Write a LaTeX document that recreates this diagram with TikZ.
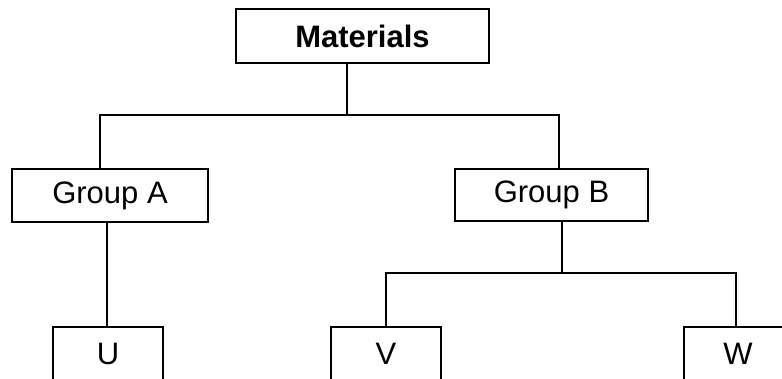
\documentclass[tikz,border=0pt]{standalone}
\usepackage{fontspec}
\setmainfont{Liberation Sans}
\begin{document}
\begin{tikzpicture}[x=1pt,y=-1pt,
  box/.style={draw=black,line width=1.6pt,fill=white,inner sep=0pt,
    font=\fontsize{31}{36}\selectfont},
  conn/.style={draw=black,line width=1.6pt,line join=miter}]
\clip (0,0) rectangle (782,379);
\useasboundingbox (0,0) rectangle (782,379);
\node[box,minimum width=253pt,minimum height=54pt,font=\fontsize{31}{36}\selectfont\bfseries] (m) at (362.5,36) {Materials};
\node[box,minimum width=196pt,minimum height=53pt] (ga) at (110,195.5) {Group A};
\node[box,minimum width=193pt,minimum height=52pt] (gb) at (551.5,195) {Group B};
\node[box,minimum width=110pt,minimum height=54pt] (u) at (108,354) {U};
\node[box,minimum width=110pt,minimum height=54pt] (v) at (386,354) {V};
\node[box,minimum width=108pt,minimum height=54pt] (w) at (738,354) {W};
\coordinate (mb) at (347,115);
\coordinate (aTop) at (100,115);
\coordinate (bTop) at (559,115);
\coordinate (gaB) at (107,250);
\coordinate (gbB) at (562,273);
\coordinate (vB) at (386,273);
\coordinate (wB) at (736,273);
\draw[conn] (m.south -| mb) -- (mb);
\draw[conn] (ga.north -| aTop) -- (aTop) -- (bTop) -- (gb.north -| bTop);
\draw[conn] (ga.south -| gaB) -- (u.north -| gaB);
\draw[conn] (gb.south -| gbB) -- (gbB);
\draw[conn] (v.north -| vB) -- (vB) -- (wB) -- (w.north -| wB);
\end{tikzpicture}
\end{document}
